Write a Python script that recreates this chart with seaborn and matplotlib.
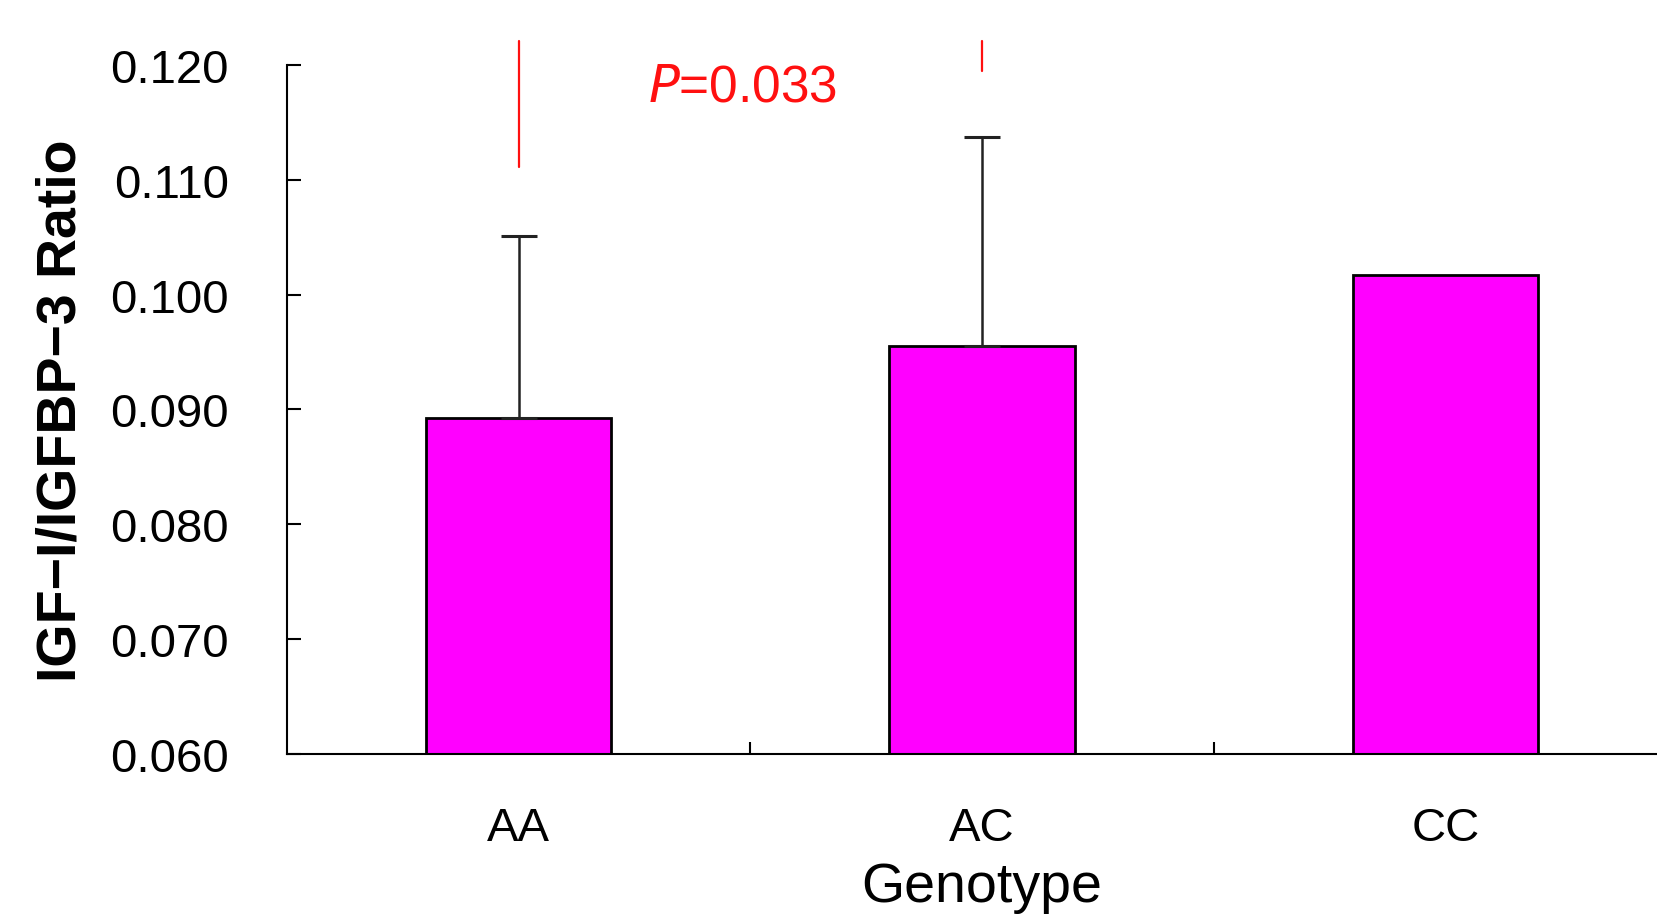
import pandas as pd
import matplotlib.pyplot as plt
import seaborn as sns

# Values
genotypes = ['AA', 'AC', 'CC']
ratio_mean = [0.0892, 0.0955, 0.1017]
ratio_sd = [0.0159, 0.0182, None]   # CC drawn without an error bar
p_text = r'$\it{P}$=0.033'

df = pd.DataFrame({'Genotype': genotypes, 'Ratio': ratio_mean})

sns.set_theme(style='white')
plt.rcParams['font.family'] = ['Liberation Sans', 'DejaVu Sans']
plt.rcParams['text.color'] = 'black'
plt.rcParams['axes.labelcolor'] = 'black'

fig = plt.figure(figsize=(16.57, 9.2), dpi=100)
ax = fig.add_axes([0.1732, 0.1798, 0.839, 0.7485])

sns.barplot(data=df, x='Genotype', y='Ratio', color='#FF00FF', saturation=1,
            width=0.4, edgecolor='black', linewidth=2, errorbar=None, ax=ax)

# upward-only error bars
idx = [i for i, s in enumerate(ratio_sd) if s is not None]
ax.errorbar([i for i in idx], [ratio_mean[i] for i in idx],
            yerr=[[0] * len(idx), [ratio_sd[i] for i in idx]],
            fmt='none', ecolor='#222222', elinewidth=1.8, capsize=13,
            capthick=2.2, zorder=3)

ax.set_ylim(0.060, 0.120)
ax.set_xlim(-0.5, 2.5)
ax.set_yticks([0.060, 0.070, 0.080, 0.090, 0.100, 0.110, 0.120])
ax.set_yticklabels([f'{v:.3f}' for v in ax.get_yticks()])

# significance bracket (red), partially above the axes
ax.plot([0, 0], [0.1111, 0.1221], color='#FF1010', lw=1.6, clip_on=False)
ax.plot([1, 1], [0.1195, 0.1221], color='#FF1010', lw=1.6, clip_on=False)
ax.text(0.278, 0.1181, p_text, color='#FF1010', fontsize=37,
        ha='left', va='center', clip_on=False)

sns.despine(ax=ax)
for side in ['left', 'bottom']:
    ax.spines[side].set_linewidth(1.5)
    ax.spines[side].set_color('black')

ax.tick_params(axis='y', direction='in', length=10, width=1.5, pad=42,
               labelsize=34, colors='black', left=True)
ax.tick_params(axis='x', which='major', length=0, pad=38, labelsize=34,
               colors='black')
ax.set_xticks([0.5, 1.5], minor=True)
ax.tick_params(axis='x', which='minor', direction='in', length=9, width=1.5,
               bottom=True, colors='black')

ax.set_xlabel('Genotype', fontsize=40, labelpad=8)
ax.set_ylabel('IGF−I/IGFBP−3 Ratio', fontsize=40, fontweight='bold',
              labelpad=16)

fig.savefig('out.png', dpi=100)
